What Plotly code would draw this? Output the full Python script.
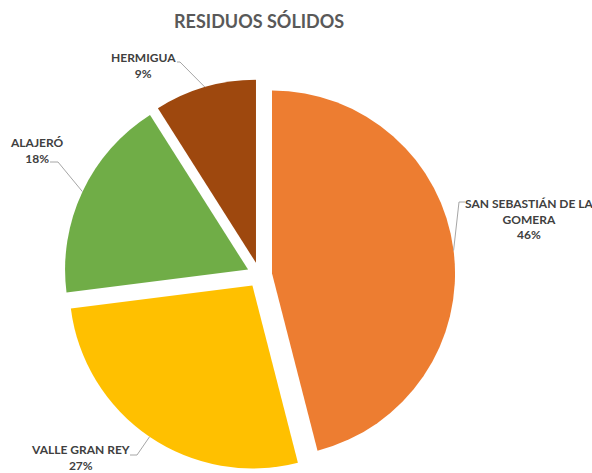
import math
import plotly.graph_objects as go

# Data
municipios = ["SAN SEBASTIÁN DE LA<br>GOMERA", "VALLE GRAN REY", "ALAJERÓ", "HERMIGUA"]
porcentajes = [46, 27, 18, 9]
colores = ["#ED7D31", "#FFC000", "#70AD47", "#9E480E"]

W, H = 592, 473

# Pie geometry (pixels)
CX, CY = 259.5, 275.0   # centre of the un-pulled pie
R = 183.0               # slice radius
PULL = 0.069

half = R * (1 + PULL)
dom_x = [(CX - half) / W, (CX + half) / W]
dom_y = [(H - CY - half) / H, (H - CY + half) / H]

# Label placement: text centre, and the elbow of the leader line (pixels)
label_layout = [
    dict(text_xy=(529, 219), start=(465, 202), elbow=(459, 202)),
    dict(text_xy=(80, 457), start=(130, 455), elbow=(137, 455)),
    dict(text_xy=(37, 150), start=(50, 162), elbow=(58, 162)),
    dict(text_xy=(143, 65), start=(177, 62), elbow=(180, 62)),
]


def px(x, y):
    return x / W, 1 - y / H


fig = go.Figure(go.Pie(
    labels=municipios,
    values=porcentajes,
    sort=False,
    direction="clockwise",
    rotation=0,
    pull=[PULL] * len(porcentajes),
    marker=dict(colors=colores, line=dict(width=0)),
    textinfo="none",
    hoverinfo="label+percent",
    domain=dict(x=dom_x, y=dom_y),
    showlegend=False,
))

total = sum(porcentajes)
acc = 0.0
shapes, annotations = [], []
for name, val, lay in zip(municipios, porcentajes, label_layout):
    mid = (acc + val / 2) / total * 2 * math.pi
    acc += val
    # point on the outer edge of the pulled slice
    ex = CX + R * (1 + PULL) * math.sin(mid)
    ey = CY - R * (1 + PULL) * math.cos(mid)
    (sx, sy), (bx, by) = lay["start"], lay["elbow"]
    p0, p1, p2 = px(sx, sy), px(bx, by), px(ex, ey)
    shapes.append(dict(
        type="path", xref="paper", yref="paper",
        path=f"M {p0[0]},{p0[1]} L {p1[0]},{p1[1]} L {p2[0]},{p2[1]}",
        line=dict(color="#A6A6A6", width=1),
    ))
    tx, ty = px(*lay["text_xy"])
    annotations.append(dict(
        x=tx, y=ty, xref="paper", yref="paper",
        xanchor="center", yanchor="middle", showarrow=False,
        text=f"<b>{name}<br>{round(val / total * 100)}%</b>",
        font=dict(family="Lato", size=12, color="#404040"),
    ))

annotations.append(dict(
    x=259 / W, y=1 - 21 / H, xref="paper", yref="paper",
    xanchor="center", yanchor="middle", showarrow=False,
    text="<b>RESIDUOS SÓLIDOS</b>",
    font=dict(family="Lato", size=18, color="#595959"),
))

fig.update_layout(
    width=W, height=H,
    margin=dict(l=0, r=0, t=0, b=0),
    paper_bgcolor="white", plot_bgcolor="white",
    shapes=shapes, annotations=annotations,
)

fig.write_html("out.html")
